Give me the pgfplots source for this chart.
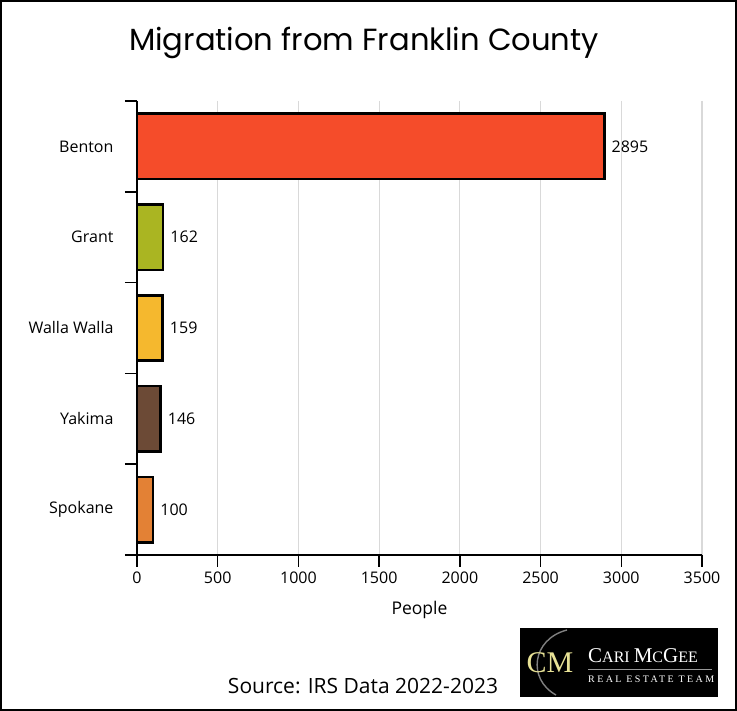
\documentclass[border=0pt]{standalone}
\usepackage{fontspec}
\setmainfont{Open Sans}
\newfontfamily\titlefont{Poppins}
\newfontfamily\logofont{Liberation Serif}
\usepackage{pgfplots}
\pgfplotsset{compat=1.18}
\definecolor{cBenton}{HTML}{F54C2A}
\definecolor{cGrant}{HTML}{AAB522}
\definecolor{cWalla}{HTML}{F5B82E}
\definecolor{cYakima}{HTML}{6C4A36}
\definecolor{cSpokane}{HTML}{E38135}
\definecolor{gridgray}{HTML}{D9D9D9}
\definecolor{logoyellow}{HTML}{E8E296}
\begin{document}
\begin{tikzpicture}[x=1pt,y=1pt]
\useasboundingbox (0,0) rectangle (737,711);
\fill[white] (0,0) rectangle (737,711);
\begin{axis}[
  at={(137pt,156pt)}, anchor=south west,
  width=565pt, height=454pt, scale only axis,
  xbar, bar shift=0pt, bar width=0.72,
  xmin=0, xmax=3500,
  ymin=-0.5, ymax=4.5, y dir=reverse,
  axis x line*=bottom, axis y line*=left,
  axis line style={-, line width=2.2pt, black},
  xtick={0,500,...,3500},
  xmajorgrids, grid style={gridgray, line width=1.2pt},
  ytick={-0.5,0.5,1.5,2.5,3.5,4.5},
  yticklabels={Benton,Grant,Walla Walla,Yakima,Spokane,{}},
  yticklabel style={yshift=-45.4pt, xshift=-8pt},
  xticklabel style={yshift=-1pt},
  tick align=outside, major tick length=12pt,
  tick style={black, line width=1.5pt},
  ticklabel style={font=\fontsize{16}{19}\selectfont},
  /pgf/number format/assume math mode=true,
  /pgf/number format/1000 sep={},
  xlabel={People},
  xlabel style={font=\fontsize{17.5}{21}\selectfont, at={(axis description cs:0.5,0)}, anchor=center, yshift=-55pt},
  nodes near coords, point meta=x,
  nodes near coords style={anchor=west, inner sep=2pt, xshift=4pt, font=\fontsize{16}{19}\selectfont, text=black},
  every axis plot/.append style={draw=black, line width=2.6pt},
  clip=false,
]
\addplot[fill=cBenton] coordinates {(2895,0)};
\addplot[fill=cGrant] coordinates {(162,1)};
\addplot[fill=cWalla] coordinates {(159,2)};
\addplot[fill=cYakima] coordinates {(146,3)};
\addplot[fill=cSpokane] coordinates {(100,4)};
\end{axis}
\node[font=\titlefont\fontsize{30.6}{36}\selectfont] at (364,668) {Migration from Franklin County};
\node[font=\fontsize{21}{25}\selectfont] at (363,25) {Source: IRS Data 2022-2023};
% logo
\fill[black] (520,14) rectangle (718,83);
\draw[gray, line width=1.4pt] (567,81) .. controls (532,72) and (527,32) .. (556,16);
\node[text=logoyellow, font=\logofont\fontsize{30}{30}\selectfont, inner sep=0pt] at (550,48) {CM};
\node[text=white, font=\logofont, inner sep=0pt, anchor=base west] at (588,48) {{\fontsize{21}{21}\selectfont C}{\fontsize{16}{16}\selectfont ARI }{\fontsize{21}{21}\selectfont M}{\fontsize{16}{16}\selectfont C}{\fontsize{21}{21}\selectfont G}{\fontsize{16}{16}\selectfont EE}};
\draw[gray!80, line width=0.6pt] (588,42) -- (712,42);
\node[text=white, font=\logofont\fontsize{10}{10}\selectfont\addfontfeature{LetterSpace=24}, inner sep=0pt, anchor=base west] at (588,28) {REAL ESTATE TEAM};
% frame
\draw[black, line width=4pt] (0,0) rectangle (737,711);
\end{tikzpicture}
\end{document}
